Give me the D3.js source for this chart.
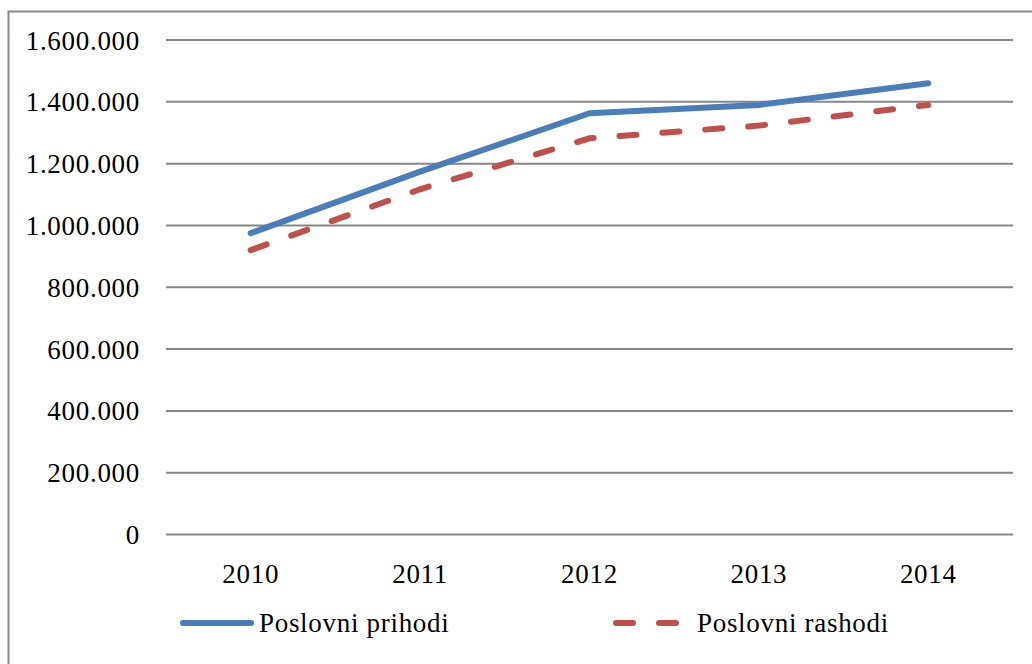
<!DOCTYPE html>
<html>
<head>
<meta charset="utf-8">
<script src="https://cdn.jsdelivr.net/npm/d3@7"></script>
<style>
  body { margin: 0; background: #fff; }
  svg { display: block; }
  text { font-family: "Liberation Serif", "DejaVu Serif", serif; fill: #000; }
</style>
</head>
<body>
<div id="chart"></div>
<script>
const years = ["2010", "2011", "2012", "2013", "2014"];
const prihodi = [975000, 1174000, 1363000, 1390000, 1460000];
const rashodi = [920000, 1117000, 1282000, 1323000, 1390000];
const yTicks = [0, 200000, 400000, 600000, 800000, 1000000, 1200000, 1400000, 1600000];
const seriesNames = ["Poslovni prihodi", "Poslovni rashodi"];

const w = 1032, h = 664;
const color = { prihodi: "#4a7ebb", rashodi: "#c0504d" };
const fmt = d3.formatLocale({ decimal: ",", thousands: ".", grouping: [3], currency: ["", ""] }).format(",d");

const svg = d3.select("#chart").append("svg").attr("width", w).attr("height", h);

// chart frame (cropped on the right and bottom)
svg.append("rect")
  .attr("x", 8.5).attr("y", 11.5)
  .attr("width", 1040).attr("height", 700)
  .attr("fill", "none").attr("stroke", "#898989").attr("stroke-width", 2);

const x = d3.scaleBand().domain(years).range([166, 1013]);
const y = d3.scaleLinear().domain([0, 1600000]).range([534.5, 40]);

// gridlines
svg.append("g")
  .selectAll("line")
  .data(yTicks)
  .join("line")
  .attr("x1", 166).attr("x2", 1013)
  .attr("y1", (d) => y(d)).attr("y2", (d) => y(d))
  .attr("stroke", "#878787").attr("stroke-width", 2);

// y labels
svg.append("g")
  .selectAll("text")
  .data(yTicks)
  .join("text")
  .attr("x", 140)
  .attr("y", (d) => y(d) + 9.5)
  .attr("text-anchor", "end")
  .attr("font-size", 27)
  .style("letter-spacing", "0.7px")
  .text((d) => fmt(d));

// x labels
svg.append("g")
  .selectAll("text")
  .data(years)
  .join("text")
  .attr("x", (d) => x(d) + x.bandwidth() / 2)
  .attr("y", 583)
  .attr("text-anchor", "middle")
  .attr("font-size", 27)
  .style("letter-spacing", "0.7px")
  .text((d) => d);

const line = d3.line()
  .x((d, i) => x(years[i]) + x.bandwidth() / 2)
  .y((d) => y(d));

svg.append("path")
  .datum(rashodi)
  .attr("d", line)
  .attr("fill", "none")
  .attr("stroke", color.rashodi)
  .attr("stroke-width", 6)
  .attr("stroke-linecap", "round")
  .attr("stroke-dasharray", "17 26");

svg.append("path")
  .datum(prihodi)
  .attr("d", line)
  .attr("fill", "none")
  .attr("stroke", color.prihodi)
  .attr("stroke-width", 6)
  .attr("stroke-linecap", "round")
  .attr("stroke-linejoin", "round");

// legend
const legend = svg.append("g");
const items = [
  { name: seriesNames[0], c: color.prihodi, dash: null, x1: 183, x2: 251, tx: 259 },
  { name: seriesNames[1], c: color.rashodi, dash: "17 26", x1: 616, x2: 678, tx: 697 },
];
items.forEach((it) => {
  legend.append("line")
    .attr("x1", it.x1).attr("x2", it.x2)
    .attr("y1", 623).attr("y2", 623)
    .attr("stroke", it.c).attr("stroke-width", 6)
    .attr("stroke-linecap", "round")
    .attr("stroke-dasharray", it.dash);
  legend.append("text")
    .attr("x", it.tx).attr("y", 632)
    .attr("font-size", 27)
    .style("letter-spacing", "0.7px")
    .text(it.name);
});
</script>
</body>
</html>
